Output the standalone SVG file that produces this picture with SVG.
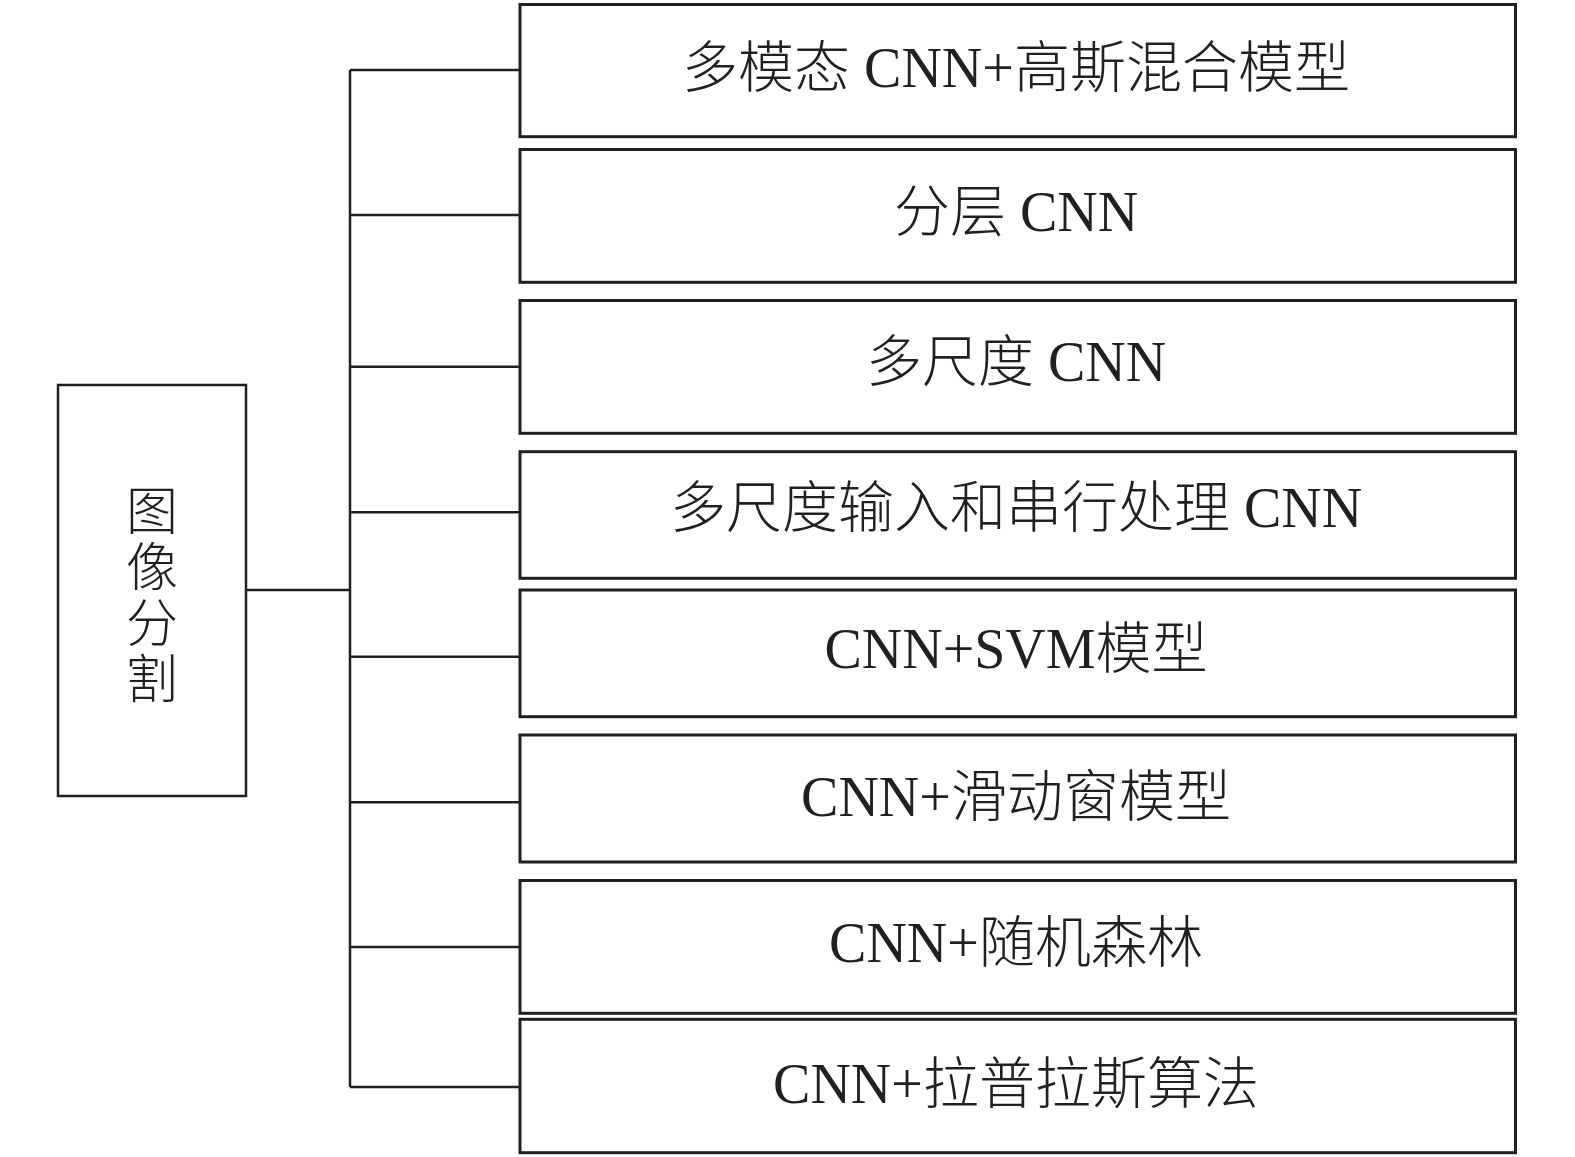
<svg xmlns="http://www.w3.org/2000/svg" width="1575" height="1157" viewBox="0 0 1575 1157">
<style>
.box{fill:#fff;stroke:#231f20;stroke-width:3}
.root{fill:#fff;stroke:#231f20;stroke-width:2.5}
.ln{fill:none;stroke:#231f20;stroke-width:2.5}
.t{font-family:"Liberation Serif","Noto Sans CJK SC",serif;font-size:56px;font-weight:300;fill:#231f20;text-anchor:middle}
.v{font-family:"Noto Sans CJK SC",sans-serif;font-size:52px;font-weight:300;fill:#231f20;writing-mode:vertical-rl;letter-spacing:4px}
</style>
<rect width="1575" height="1157" fill="#fff"/>
<g id="connectors">
<line class="ln" x1="246" y1="590" x2="350" y2="590"/>
<line class="ln" x1="350" y1="70" x2="350" y2="1087"/>
<line class="ln" x1="350" y1="70" x2="520" y2="70"/>
<line class="ln" x1="350" y1="215" x2="520" y2="215"/>
<line class="ln" x1="350" y1="366.7" x2="520" y2="366.7"/>
<line class="ln" x1="350" y1="512.3" x2="520" y2="512.3"/>
<line class="ln" x1="350" y1="656.7" x2="520" y2="656.7"/>
<line class="ln" x1="350" y1="802.3" x2="520" y2="802.3"/>
<line class="ln" x1="350" y1="947" x2="520" y2="947"/>
<line class="ln" x1="350" y1="1087" x2="520" y2="1087"/>
</g>
<g id="root">
<rect class="root" x="58" y="385" width="188" height="411"/>
<text class="v" x="152" y="484">图像分割</text>
</g>
<g id="n1">
<rect class="box" x="520" y="4.5" width="995.5" height="132.2"/>
<text class="t" x="1016" y="87">多模态 CNN+高斯混合模型</text>
</g>
<g id="n2">
<rect class="box" x="520" y="149.5" width="995.5" height="132.8"/>
<text class="t" x="1016" y="231">分层 CNN</text>
</g>
<g id="n3">
<rect class="box" x="520" y="300.5" width="995.5" height="132.8"/>
<text class="t" x="1016" y="381">多尺度 CNN</text>
</g>
<g id="n4">
<rect class="box" x="520" y="451.7" width="995.5" height="126.6"/>
<text class="t" x="1016" y="527">多尺度输入和串行处理 CNN</text>
</g>
<g id="n5">
<rect class="box" x="520" y="590" width="995.5" height="126.7"/>
<text class="t" x="1016" y="668">CNN+SVM模型</text>
</g>
<g id="n6">
<rect class="box" x="520" y="735" width="995.5" height="127"/>
<text class="t" x="1016" y="816">CNN+滑动窗模型</text>
</g>
<g id="n7">
<rect class="box" x="520" y="880.5" width="995.5" height="132.8"/>
<text class="t" x="1016" y="962">CNN+随机森林</text>
</g>
<g id="n8">
<rect class="box" x="520" y="1019.3" width="995.5" height="133.4"/>
<text class="t" x="1016" y="1103">CNN+拉普拉斯算法</text>
</g>
</svg>
